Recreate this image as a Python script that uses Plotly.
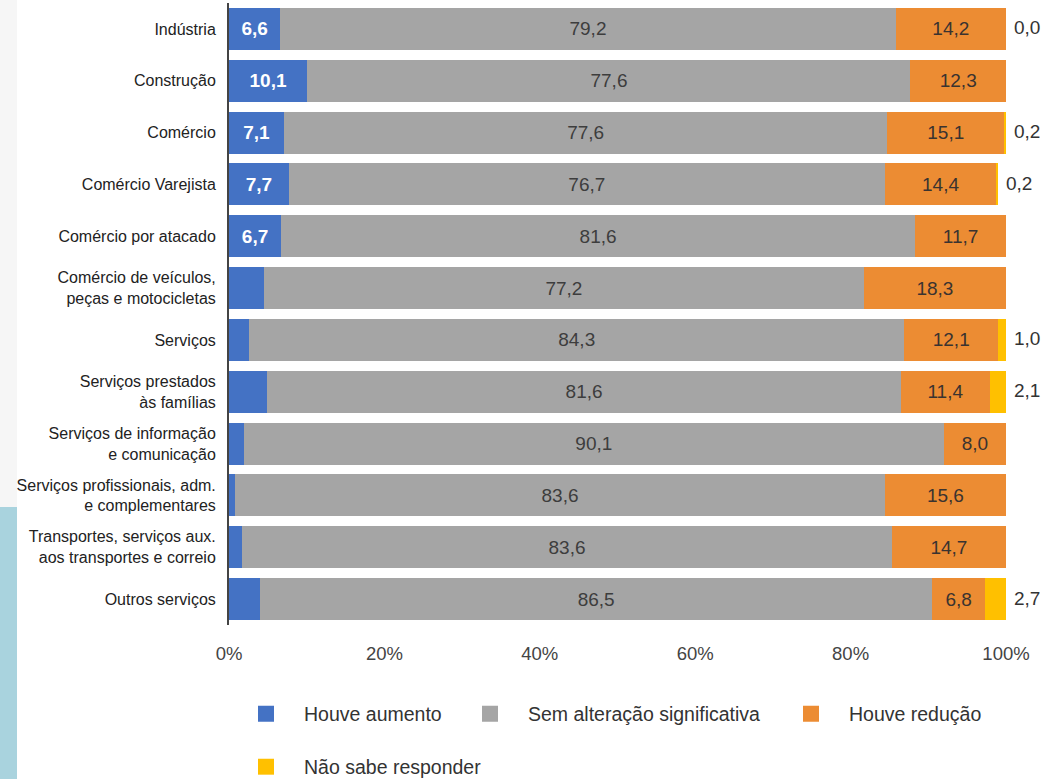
import plotly.graph_objects as go

categories = [
    "Indústria",
    "Construção",
    "Comércio",
    "Comércio Varejista",
    "Comércio por atacado",
    "Comércio de veículos,<br>peças e motocicletas",
    "Serviços",
    "Serviços prestados<br>às famílias",
    "Serviços de informação<br>e comunicação",
    "Serviços profissionais, adm.<br>e complementares",
    "Transportes, serviços aux.<br>aos transportes e correio",
    "Outros serviços",
]
houve_aumento = [6.6, 10.1, 7.1, 7.7, 6.7, 4.5, 2.6, 4.9, 1.9, 0.8, 1.7, 4.0]
sem_alteracao = [79.2, 77.6, 77.6, 76.7, 81.6, 77.2, 84.3, 81.6, 90.1, 83.6, 83.6, 86.5]
houve_reducao = [14.2, 12.3, 15.1, 14.4, 11.7, 18.3, 12.1, 11.4, 8.0, 15.6, 14.7, 6.8]
nao_sabe = [0.0, None, 0.2, 0.2, None, None, 1.0, 2.1, None, None, None, 2.7]

series_names = ["Houve aumento", "Sem alteração significativa", "Houve redução", "Não sabe responder"]
colors = ["#4472C4", "#A5A5A5", "#EC8C33", "#FFC000"]


def fmt(v):
    return ("%.1f" % v).replace(".", ",")


W, H = 1057, 779
ML, MR, MT, MB = 229, 51, 3, 154
PW, PH = W - ML - MR, H - MT - MB
FONT = "Liberation Sans, Arial"

fig = go.Figure()

blue_text = [fmt(v) if v >= 6 else "" for v in houve_aumento]
fig.add_trace(go.Bar(
    y=categories, x=houve_aumento, orientation="h", name=series_names[0],
    marker=dict(color=colors[0], line=dict(width=0)),
    text=blue_text, textposition="inside", insidetextanchor="middle",
    insidetextfont=dict(family=FONT, size=19, color="white", weight="bold"),
    showlegend=False,
))
fig.add_trace(go.Bar(
    y=categories, x=sem_alteracao, orientation="h", name=series_names[1],
    marker=dict(color=colors[1], line=dict(width=0)),
    text=[fmt(v) for v in sem_alteracao], textposition="inside", insidetextanchor="middle",
    insidetextfont=dict(family=FONT, size=19, color="#3d3d3d"),
    showlegend=False,
))
fig.add_trace(go.Bar(
    y=categories, x=houve_reducao, orientation="h", name=series_names[2],
    marker=dict(color=colors[2], line=dict(width=0)),
    text=[fmt(v) for v in houve_reducao], textposition="inside", insidetextanchor="middle",
    insidetextfont=dict(family=FONT, size=19, color="#3a3330"),
    showlegend=False,
))
fig.add_trace(go.Bar(
    y=categories, x=[v if v is not None else 0 for v in nao_sabe], orientation="h", name=series_names[3],
    marker=dict(color=colors[3], line=dict(width=0)),
    showlegend=False,
))


def px_x(p):
    return (p - ML) / PW


def px_y(p):
    return (H - MB - p) / PH


# legend entries (square swatches), one legend box per entry
legend_ids = ["legend", "legend2", "legend3", "legend4"]
legend_centers = [(265, 714), (489, 714), (810, 714), (265, 767)]
for nm, c, lid in zip(series_names, colors, legend_ids):
    fig.add_trace(go.Scatter(
        x=[None], y=[None], mode="markers", name=nm,
        marker=dict(symbol="square", size=20, color=c),
        legend=lid,
    ))

# outside labels for "Não sabe responder"
for cat, a, b, c, d in zip(categories, houve_aumento, sem_alteracao, houve_reducao, nao_sabe):
    if d is None:
        continue
    fig.add_annotation(
        x=a + b + c + d, y=cat, text=fmt(d), showarrow=False,
        xanchor="left", xshift=6, yshift=1,
        font=dict(family=FONT, size=19, color="#333333"),
    )

# left page strips
fig.add_shape(type="rect", xref="paper", yref="paper", x0=px_x(0), x1=px_x(17), y0=px_y(507), y1=px_y(0),
              fillcolor="#F6F6F6", line=dict(width=0), layer="below")
fig.add_shape(type="rect", xref="paper", yref="paper", x0=px_x(0), x1=px_x(17), y0=px_y(779), y1=px_y(507),
              fillcolor="#A9D3DE", line=dict(width=0), layer="below")

layout_legends = {}
for lid, (cx, cy) in zip(legend_ids, legend_centers):
    layout_legends[lid] = dict(
        orientation="h", xref="paper", yref="paper", x=px_x(cx - 19 - 18), y=px_y(cy),
        xanchor="left", yanchor="middle", itemwidth=66,
        font=dict(family=FONT, size=19.5, color="#333333"), bgcolor="rgba(0,0,0,0)", itemsizing="trace",
    )

fig.update_layout(
    width=W, height=H,
    margin=dict(l=ML, r=MR, t=MT, b=MB, autoexpand=False),
    barmode="stack", bargap=0.19,
    separators=",.",
    paper_bgcolor="white", plot_bgcolor="white",
    font=dict(family=FONT, color="#222222"),
    xaxis=dict(
        range=[0, 100], tickvals=[0, 20, 40, 60, 80, 100], ticktext=["0%", "20%", "40%", "60%", "80%", "100%"],
        showgrid=False, zeroline=False, showline=False,
        ticks="outside", ticklen=12, tickcolor="rgba(0,0,0,0)",
        tickfont=dict(size=18.5, color="#444444"), fixedrange=True,
    ),
    yaxis=dict(
        autorange="reversed", showgrid=False, zeroline=False,
        showline=True, linecolor="#444444", linewidth=2,
        ticks="outside", ticklen=8, tickcolor="rgba(0,0,0,0)",
        tickfont=dict(size=16, color="#222222"),
    ),
    **layout_legends,
)

for tr in fig.data:
    if tr.type == "bar":
        tr.constraintext = "none"
        tr.textangle = 0

fig.write_html(
    "out.html",
    config={"displayModeBar": False},
    post_script="document.body.style.margin='0';document.body.style.overflow='hidden';",
)
